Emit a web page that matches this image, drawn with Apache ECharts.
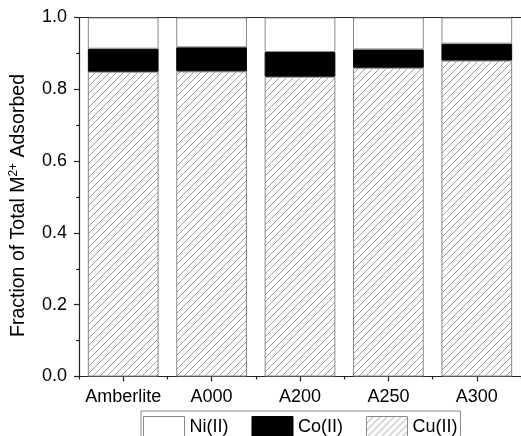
<!DOCTYPE html>
<html>
<head>
<meta charset="utf-8">
<script src="https://cdn.jsdelivr.net/npm/echarts@6/dist/echarts.min.js"></script>
<style>
html,body{margin:0;padding:0;background:#fff;}
#chart{width:521px;height:436px;}
</style>
</head>
<body>
<div id="chart"></div>
<script>
var categories = ['Amberlite', 'A000', 'A200', 'A250', 'A300'];
var cuValues = [0.849, 0.850, 0.835, 0.860, 0.880];
var coValues = [0.064, 0.067, 0.069, 0.051, 0.047];
var niValues = [0.087, 0.083, 0.096, 0.089, 0.073];
var yTicks = [0.0, 0.2, 0.4, 0.6, 0.8, 1.0];

var FONT = "'Liberation Sans', Arial, sans-serif";

function makeHatch() {
  var s = 7;
  var c = document.createElement('canvas');
  c.width = s; c.height = s;
  var ctx = c.getContext('2d');
  ctx.fillStyle = '#fff';
  ctx.fillRect(0, 0, s, s);
  ctx.strokeStyle = '#8c8c8c';
  ctx.lineWidth = 0.85;
  ctx.beginPath();
  ctx.moveTo(-1, s + 1); ctx.lineTo(s + 1, -1);
  ctx.moveTo(-1, 1); ctx.lineTo(1, -1);
  ctx.moveTo(s - 1, s + 1); ctx.lineTo(s + 1, s - 1);
  ctx.stroke();
  return c;
}
var hatch = makeHatch();

var chart = echarts.init(document.getElementById('chart'), null, {renderer: 'canvas'});

var gridLeft = 78, gridTop = 17.5, gridW = 446, gridH = 359;

var option = {
  animation: false,
  backgroundColor: '#fff',
  textStyle: {fontFamily: FONT},
  grid: {left: gridLeft, top: gridTop, width: gridW, height: gridH, containLabel: false},
  legend: {
    left: 141, top: 411,
    orient: 'horizontal',
    padding: [5, 3, 5, 2],
    borderColor: '#888', borderWidth: 1,
    itemWidth: 41, itemHeight: 21, itemGap: 23,
    textStyle: {fontFamily: FONT, fontSize: 18, color: '#000', padding: [0, 0, 0, 0]},
    data: [
      {name: 'Ni(II)', icon: 'rect', itemStyle: {color: '#fff', borderColor: '#888', borderWidth: 1}},
      {name: 'Co(II)', icon: 'rect', itemStyle: {color: '#000', borderColor: '#000', borderWidth: 1}},
      {name: 'Cu(II)', icon: 'rect', itemStyle: {color: {image: hatch, repeat: 'repeat'}, borderColor: '#888', borderWidth: 1}}
    ]
  },
  xAxis: [
    {
      type: 'category', data: categories, position: 'bottom',
      axisLine: {show: true, lineStyle: {color: '#222', width: 1.2}},
      axisTick: {show: true, alignWithLabel: true, inside: false, length: 5, lineStyle: {color: '#222', width: 1.2}},
      axisLabel: {fontFamily: FONT, fontSize: 18, color: '#000', margin: 12, interval: 0},
      splitLine: {show: false}
    },
    {
      type: 'category', data: categories, position: 'bottom',
      axisLine: {show: false},
      axisTick: {show: true, length: 3, lineStyle: {color: '#222', width: 1.2}},
      axisLabel: {show: false},
      splitLine: {show: false}
    },
    {
      type: 'category', data: categories, position: 'top',
      axisLine: {show: true, lineStyle: {color: '#222', width: 1.2}},
      axisTick: {show: false},
      axisLabel: {show: false},
      splitLine: {show: false}
    }
  ],
  yAxis: {
    type: 'value', min: 0, max: 1, interval: 0.2,
    name: 'Fraction of Total M{sup|2+} Adsorbed',
    nameLocation: 'middle', nameRotate: 90, nameGap: 50,
    nameTextStyle: {
      fontFamily: FONT, fontSize: 19.5, color: '#000',
      padding: [0, 17, 0, 0],
      rich: {sup: {fontFamily: FONT, fontSize: 12, color: '#000', padding: [0, 0, 9, 0]}}
    },
    axisLine: {show: true, lineStyle: {color: '#222', width: 1.2}},
    axisTick: {show: true, inside: false, length: 5, lineStyle: {color: '#222', width: 1.2}},
    minorTick: {show: true, splitNumber: 2, length: 3, lineStyle: {color: '#222', width: 1.2}},
    axisLabel: {
      fontFamily: FONT, fontSize: 18, color: '#000', margin: 12,
      formatter: function (v) { return v.toFixed(1); }
    },
    splitLine: {show: false}
  },
  series: [
    {
      name: 'Cu(II)', type: 'bar', stack: 'total', barWidth: '80%',
      data: cuValues,
      itemStyle: {color: {image: hatch, repeat: 'repeat'}, borderColor: '#888', borderWidth: 1}
    },
    {
      name: 'Co(II)', type: 'bar', stack: 'total', barWidth: '80%',
      data: coValues,
      itemStyle: {color: '#000', borderColor: '#000', borderWidth: 1}
    },
    {
      name: 'Ni(II)', type: 'bar', stack: 'total', barWidth: '80%',
      data: niValues,
      itemStyle: {color: '#fff', borderColor: '#888', borderWidth: 1}
    }
  ]
};
chart.setOption(option);
</script>
</body>
</html>
